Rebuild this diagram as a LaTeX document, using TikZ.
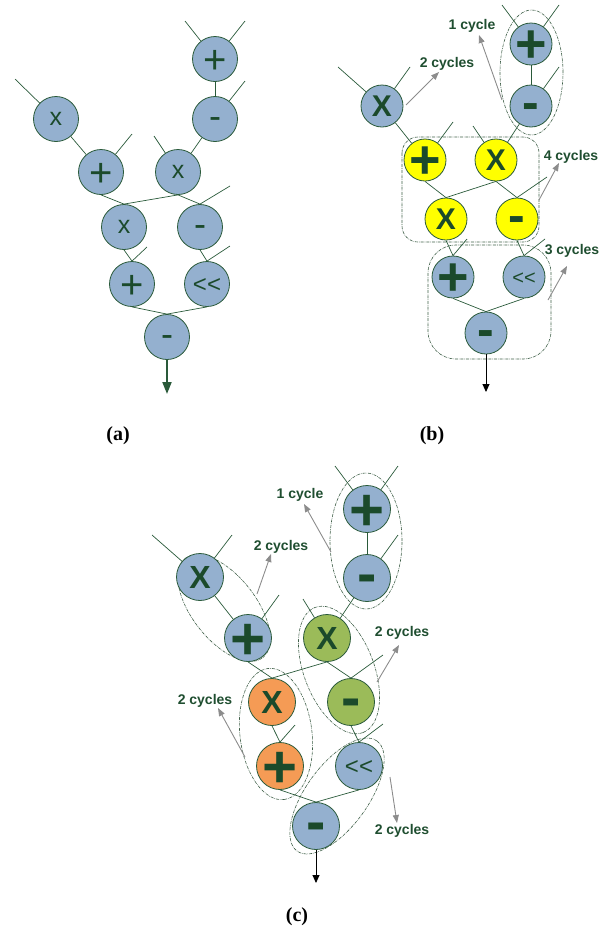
\documentclass[tikz,border=0pt]{standalone}
\usepackage{fontspec}
\usetikzlibrary{arrows.meta}
\newfontfamily\arialf{Liberation Sans}
\newfontfamily\timesf{Liberation Serif}
\definecolor{nblue}{HTML}{94B0CF}
\definecolor{nyellow}{HTML}{FFFF00}
\definecolor{ngreen}{HTML}{9BBB59}
\definecolor{norange}{HTML}{F59B55}
\definecolor{linec}{HTML}{2A5A3A}
\definecolor{symc}{HTML}{1B4A2B}
\definecolor{labc}{HTML}{1F4E30}
\definecolor{dashc}{HTML}{3F5F48}
\definecolor{grayc}{HTML}{8C8C8C}
\newcommand\glyph[3]{{\fontsize{#1}{#1}\selectfont\makebox[0pt]{\raisebox{#2}[0pt][0pt]{#3}}}}
\tikzset{
  op/.style={circle, draw=linec, line width=0.8pt, inner sep=0pt, text=symc},
  opa/.style={op, minimum size=45pt, fill=nblue, font=\arialf},
  opb/.style={op, minimum size=42pt, font=\arialf\bfseries},
  opc/.style={op, minimum size=47pt, font=\arialf\bfseries},
  wire/.style={draw=linec, line width=0.7pt},
  grp/.style={draw=dashc, line width=0.6pt, dash pattern=on 3pt off 1pt on 0.6pt off 1pt},
  lab/.style={font=\arialf\bfseries\fontsize{14}{15}\selectfont, text=labc, inner sep=0pt},
  garr/.style={draw=grayc, line width=0.9pt, -{Triangle[length=8pt,width=6pt]}},
  captxt/.style={font=\timesf\bfseries\fontsize{20}{20}\selectfont, inner sep=0pt},
}
\begin{document}
\begin{tikzpicture}[x=1pt,y=-1pt]
\useasboundingbox (0,0) rectangle (606,932);

%%%%%%%%%%%%%%%% (a)
\node[opa] (aP1) at (215,59) {\glyph{40}{-0.35em}{+}};
\node[opa] (aM1) at (215,119) {\glyph{36}{-0.27em}{-}};
\node[opa] (aX1) at (56,119) {\glyph{25}{-0.26em}{x}};
\node[opa] (aP2) at (101,172) {\glyph{40}{-0.35em}{+}};
\node[opa] (aX2) at (178,172) {\glyph{25}{-0.26em}{x}};
\node[opa] (aX3) at (124,227) {\glyph{25}{-0.26em}{x}};
\node[opa] (aM2) at (200,227) {\glyph{36}{-0.27em}{-}};
\node[opa] (aP3) at (132,284) {\glyph{40}{-0.35em}{+}};
\node[opa] (aSh) at (207,284) {\glyph{24}{-0.35em}{<\kern0pt<}};
\node[opa] (aM3) at (167,337) {\glyph{36}{-0.27em}{-}};

\coordinate (aiP1a) at (185,21);
\coordinate (aiP1b) at (245,21);
\coordinate (aiM1) at (245,81);
\coordinate (aiX1) at (15,79);
\coordinate (aiP2) at (132,134);
\coordinate (aiX2) at (154,136);
\coordinate (aiM2) at (230,186);
\coordinate (aiP3) at (147,247);
\coordinate (aiSh) at (230,246);
\coordinate (aout) at (167,394);

\draw[wire] (aP1) -- (aiP1a);
\draw[wire] (aP1) -- (aiP1b);
\draw[wire] (aM1) -- (aiM1);
\draw[wire] (aX1) -- (aiX1);
\draw[wire] (aP2) -- (aiP2);
\draw[wire] (aX2) -- (aiX2);
\draw[wire] (aP1) -- (aM1);
\draw[wire] (aM1) -- (aX2);
\draw[wire] (aX1) -- (aP2);
\draw[wire] (aP2.south) -- (aX3.north);
\draw[wire] (aX2.south) -- (aX3.north);
\draw[wire] (aX2.south) -- (aM2.north);
\draw[wire] (aM2.north) -- (aiM2);
\draw[wire] (aX3.south) -- (aP3.north);
\draw[wire] (aP3.north) -- (aiP3);
\draw[wire] (aM2.south) -- (aSh.north);
\draw[wire] (aSh.north) -- (aiSh);
\draw[wire] (aP3.south) -- (aM3.north);
\draw[wire] (aSh.south) -- (aM3.north);
\draw[draw=linec, line width=2pt, -{Triangle[length=12pt,width=9pt]}] (aM3.south) -- (aout);
\node[captxt] (capa) at (118,436) {(a)};

%%%%%%%%%%%%%%%% (b)
\coordinate (gb1) at (531.5,72.5);
\draw[grp] (gb1) ellipse [x radius=31.5pt, y radius=62.5pt];
\draw[grp, rounded corners=16pt] (402,137) rectangle (539,242);
\draw[grp, rounded corners=28pt] (428,245) rectangle (551,359);

\node[opb, fill=nblue] (bP1) at (531,44) {\glyph{54}{-0.35em}{+}};
\node[opb, fill=nblue] (bM1) at (531,106) {\glyph{50}{-0.26em}{-}};
\node[opb, fill=nblue] (bX1) at (382,106) {\glyph{30}{-0.358em}{X}};
\node[opb, fill=nyellow] (bP2) at (425,160) {\glyph{54}{-0.35em}{+}};
\node[opb, fill=nyellow] (bX2) at (496,160) {\glyph{30}{-0.358em}{X}};
\node[opb, fill=nyellow] (bX3) at (446,219) {\glyph{30}{-0.358em}{X}};
\node[opb, fill=nyellow] (bM2) at (517,219) {\glyph{50}{-0.26em}{-}};
\node[opb, fill=nblue] (bP3) at (453,277) {\glyph{54}{-0.35em}{+}};
\node[opb, fill=nblue, font=\arialf] (bSh) at (524,277) {\glyph{20}{-0.35em}{<\kern0pt<}};
\node[opb, fill=nblue] (bM3) at (486,333) {\glyph{50}{-0.26em}{-}};

\coordinate (biP1a) at (502,5);
\coordinate (biP1b) at (559,5);
\coordinate (biM1) at (559,67);
\coordinate (biX1a) at (338,67);
\coordinate (biX1b) at (410,67);
\coordinate (biP2) at (453,122);
\coordinate (biX2) at (473,126);
\coordinate (biM2) at (547,177);
\coordinate (biP3) at (467,239);
\coordinate (biSh) at (545,239);
\coordinate (bout) at (486,392);

\draw[wire] (bP1) -- (biP1a);
\draw[wire] (bP1) -- (biP1b);
\draw[wire] (bM1) -- (biM1);
\draw[wire] (bX1) -- (biX1a);
\draw[wire] (bX1) -- (biX1b);
\draw[wire] (bP2) -- (biP2);
\draw[wire] (bX2) -- (biX2);
\draw[wire] (bP1) -- (bM1);
\draw[wire] (bM1) -- (bX2);
\draw[wire] (bX1) -- (bP2);
\draw[wire] (bP2.south) -- (bX3.north);
\draw[wire] (bX2.south) -- (bX3.north);
\draw[wire] (bX2.south) -- (bM2.north);
\draw[wire] (bM2.north) -- (biM2);
\draw[wire] (bX3.south) -- (bP3.north);
\draw[wire] (bP3.north) -- (biP3);
\draw[wire] (bM2.south) -- (bSh.north);
\draw[wire] (bSh.north) -- (biSh);
\draw[wire] (bP3.south) -- (bM3.north);
\draw[wire] (bSh.south) -- (bM3.north);
\draw[draw=black, line width=0.9pt, -{Triangle[length=8pt,width=7pt]}] (bM3.south) -- (bout);

\node[lab] (lb1) at (472,26) {1 cycle};
\node[lab] (lb2) at (447,64) {2 cycles};
\node[lab] (lb4) at (571,157) {4 cycles};
\node[lab] (lb3) at (572,251) {3 cycles};
\coordinate (bs1) at (502,100);
\coordinate (be1) at (479,35);
\coordinate (bs2) at (406,105);
\coordinate (be2) at (439,72);
\coordinate (bs4) at (539,200);
\coordinate (be4) at (559,163);
\coordinate (bs3) at (548,300);
\coordinate (be3) at (567,266);
\draw[garr] (bs1) -- (be1);
\draw[garr] (bs2) -- (be2);
\draw[garr] (bs4) -- (be4);
\draw[garr] (bs3) -- (be3);
\node[captxt] (capb) at (432,436) {(b)};

%%%%%%%%%%%%%%%% (c)
\coordinate (gc1) at (366,541);
\coordinate (gc2) at (224,608);
\coordinate (gc3) at (339,670);
\coordinate (gc4) at (276,734);
\coordinate (gc5) at (337,796);
\draw[grp] (gc1) ellipse [x radius=36pt, y radius=68pt];
\draw[grp, rotate around={-52:(gc2)}] (gc2) ellipse [x radius=63pt, y radius=32pt];
\draw[grp, rotate around={-69:(gc3)}] (gc3) ellipse [x radius=67pt, y radius=35pt];
\draw[grp, rotate around={-83:(gc4)}] (gc4) ellipse [x radius=66pt, y radius=36pt];
\draw[grp, rotate around={54:(gc5)}] (gc5) ellipse [x radius=68pt, y radius=31pt];

\node[opc, fill=nblue] (cP1) at (367,509) {\glyph{60}{-0.35em}{+}};
\node[opc, fill=nblue] (cM1) at (367,578) {\glyph{58}{-0.26em}{-}};
\node[opc, fill=nblue] (cX1) at (200,577) {\glyph{32}{-0.358em}{X}};
\node[opc, fill=nblue] (cP2) at (248,638) {\glyph{60}{-0.35em}{+}};
\node[opc, fill=ngreen] (cX2) at (327,638) {\glyph{32}{-0.358em}{X}};
\node[opc, fill=norange] (cX3) at (272,702) {\glyph{32}{-0.358em}{X}};
\node[opc, fill=ngreen] (cM2) at (351,702) {\glyph{58}{-0.26em}{-}};
\node[opc, fill=norange] (cP3) at (280,766) {\glyph{60}{-0.35em}{+}};
\node[opc, fill=nblue, font=\arialf] (cSh) at (359,766) {\glyph{24}{-0.35em}{<\kern0pt<}};
\node[opc, fill=nblue] (cM3) at (316,826) {\glyph{58}{-0.26em}{-}};

\coordinate (ciP1a) at (335,466);
\coordinate (ciP1b) at (398,466);
\coordinate (ciM1) at (398,535);
\coordinate (ciX1a) at (152,535);
\coordinate (ciX1b) at (232,535);
\coordinate (ciP2) at (279,595);
\coordinate (ciX2) at (303,599);
\coordinate (ciM2) at (383,655);
\coordinate (ciP3) at (295,725);
\coordinate (ciSh) at (383,724);
\coordinate (cout) at (316,883);

\draw[wire] (cP1) -- (ciP1a);
\draw[wire] (cP1) -- (ciP1b);
\draw[wire] (cM1) -- (ciM1);
\draw[wire] (cX1) -- (ciX1a);
\draw[wire] (cX1) -- (ciX1b);
\draw[wire] (cP2) -- (ciP2);
\draw[wire] (cX2) -- (ciX2);
\draw[wire] (cP1) -- (cM1);
\draw[wire] (cM1) -- (cX2);
\draw[wire] (cX1) -- (cP2);
\draw[wire] (cP2.south) -- (cX3.north);
\draw[wire] (cX2.south) -- (cX3.north);
\draw[wire] (cX2.south) -- (cM2.north);
\draw[wire] (cM2.north) -- (ciM2);
\draw[wire] (cX3.south) -- (cP3.north);
\draw[wire] (cP3.north) -- (ciP3);
\draw[wire] (cM2.south) -- (cSh.north);
\draw[wire] (cSh.north) -- (ciSh);
\draw[wire] (cP3.south) -- (cM3.north);
\draw[wire] (cSh.south) -- (cM3.north);
\draw[draw=black, line width=0.9pt, -{Triangle[length=8pt,width=7pt]}] (cM3.south) -- (cout);

\node[lab] (lc1) at (300,495) {1 cycle};
\node[lab] (lc2) at (281,547) {2 cycles};
\node[lab] (lc3) at (402,633) {2 cycles};
\node[lab] (lc4) at (205,701) {2 cycles};
\node[lab] (lc5) at (402,831) {2 cycles};
\coordinate (cs1) at (331,552);
\coordinate (ce1) at (304,504);
\coordinate (cs2) at (257,594);
\coordinate (ce2) at (271,554);
\coordinate (cs3) at (377,682);
\coordinate (ce3) at (399,645);
\coordinate (cs4) at (245,757);
\coordinate (ce4) at (218,708);
\coordinate (cs5) at (390,777);
\coordinate (ce5) at (397,823);
\draw[garr] (cs1) -- (ce1);
\draw[garr] (cs2) -- (ce2);
\draw[garr] (cs3) -- (ce3);
\draw[garr] (cs4) -- (ce4);
\draw[garr] (cs5) -- (ce5);
\node[captxt] (capc) at (297,917) {(c)};
\end{tikzpicture}
\end{document}
